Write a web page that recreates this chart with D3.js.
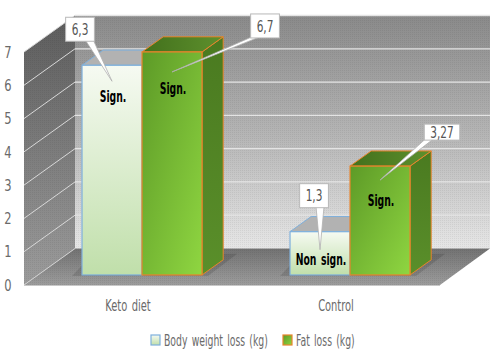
<!DOCTYPE html>
<html><head><meta charset="utf-8">
<script src="https://cdn.jsdelivr.net/npm/d3@7"></script>
<style>
html,body{margin:0;padding:0;background:#fff;}
svg{display:block;}
text{font-family:"DejaVu Sans",sans-serif;}
</style></head>
<body>
<svg id="chart" width="490" height="356"></svg>
<script>
// ---- data ----
const categories = ["Keto diet", "Control"];
const seriesNames = ["Body weight loss (kg)", "Fat loss (kg)"];
const bodyWeightLoss = [6.3, 1.3];
const fatLoss = [6.7, 3.27];
const bodyLabels = ["6,3", "1,3"];
const fatLabels = ["6,7", "3,27"];
const bodySignif = ["Sign.", "Non sign."];
const fatSignif = ["Sign.", "Sign."];
const yTicks = [0, 1, 2, 3, 4, 5, 6, 7];

// ---- layout ----
const svg = d3.select("#chart");
const FX0 = 24, FX1 = 440;           // front floor edge
const DX = 51, DY = -36.5;           // full depth vector
const T0 = 0.275, T1 = 0.69;         // bar front/back depth fractions
const BAR_W = 60;

const y = d3.scaleLinear().domain([0, 7]).range([285, 52]);
const x = d3.scaleBand().domain(categories).range([FX0, FX1]);
const xs = d3.scaleBand().domain(seriesNames).range([-BAR_W, BAR_W]);

const P = (px, py, t) => [px + DX * t, py + DY * t];
const poly = pts => pts.map(p => p.join(",")).join(" ");

// condensed text helper
function ctext(parent, tx, ty, str, opts) {
  const o = Object.assign({size: 14, fill: "#666", anchor: "middle", weight: "normal", dy: "0", sx: 0.7, ws: 0}, opts || {});
  const t = parent.append("text")
    .attr("transform", `translate(${tx},${ty}) scale(${o.sx},1)`)
    .attr("text-anchor", o.anchor).attr("dy", o.dy).attr("word-spacing", o.ws)
    .attr("font-size", o.size).attr("font-weight", o.weight).attr("fill", o.fill).text(str);
  t.sx = o.sx;
  return t;
}

const defs = svg.append("defs");
function lin(id, x1, y1, x2, y2, stops) {
  const g = defs.append("linearGradient").attr("id", id)
    .attr("x1", x1).attr("y1", y1).attr("x2", x2).attr("y2", y2);
  stops.forEach(s => g.append("stop").attr("offset", s[0]).attr("stop-color", s[1]));
}
lin("gBack", 0, 0, 0, 1, [[0, "#8a8a8a"], [0.5, "#b4b4b4"], [1, "#e6e6e6"]]);
lin("gLeft", 0, 0, 0, 1, [[0, "#5c5c5c"], [1, "#9c9c9c"]]);
lin("gFloor", 0, 0, 0, 1, [[0, "#727272"], [1, "#9c9c9c"]]);
lin("gBody", 0, 0, 0, 1, [[0, "#f6faf2"], [1, "#c0dfaa"]]);
lin("gFat", 0, 0, 1, 1, [[0, "#5d9a27"], [1, "#8fd641"]]);
lin("gFatSide", 0, 0, 0, 1, [[0, "#4a7a20"], [1, "#5a8f2a"]]);
lin("gFatTop", 0, 0, 1, 0, [[0, "#42701c"], [1, "#5e902d"]]);

const pat = defs.append("pattern").attr("id", "dots").attr("width", 2).attr("height", 2)
  .attr("patternUnits", "userSpaceOnUse");
pat.append("rect").attr("width", 1).attr("height", 1).attr("fill", "#000").attr("opacity", 0.06);

// back wall
const yTop = y(7), yBot = y(0);
const backPts = [P(FX0, yTop, 1), [490, yTop + DY], [490, yBot + DY], P(FX0, yBot, 1)];
svg.append("polygon").attr("points", poly(backPts)).attr("fill", "url(#gBack)");
svg.append("polygon").attr("points", poly(backPts)).attr("fill", "url(#dots)");
// left wall
const leftPts = [[FX0, yTop], P(FX0, yTop, 1), P(FX0, yBot, 1), [FX0, yBot]];
svg.append("polygon").attr("points", poly(leftPts)).attr("fill", "url(#gLeft)");
svg.append("polygon").attr("points", poly(leftPts)).attr("fill", "url(#dots)");
// floor
const floorPts = [[FX0, yBot], P(FX0, yBot, 1), [490, yBot + DY], [FX1, yBot]];
svg.append("polygon").attr("points", poly(floorPts)).attr("fill", "url(#gFloor)");
svg.append("polygon").attr("points", poly(floorPts)).attr("fill", "url(#dots)");
svg.append("line").attr("x1", FX0).attr("x2", FX1).attr("y1", yBot + 0.5).attr("y2", yBot + 0.5)
  .attr("stroke", "#c8c8c8").attr("stroke-width", 1.2);

// gridlines
yTicks.filter(v => v > 0).forEach(v => {
  const a = [FX0, y(v)], b = P(FX0, y(v), 1);
  svg.append("line").attr("x1", a[0]).attr("y1", a[1]).attr("x2", b[0]).attr("y2", b[1])
    .attr("stroke", "#d8d8d8").attr("stroke-width", 1);
  svg.append("line").attr("x1", b[0]).attr("y1", b[1]).attr("x2", 490).attr("y2", b[1])
    .attr("stroke", "#e4e4e4").attr("stroke-width", v === 7 ? 1.5 : 1.2);
});
{
  const a = [FX0, yBot], b = P(FX0, yBot, 1);
  svg.append("line").attr("x1", a[0]).attr("y1", a[1]).attr("x2", b[0]).attr("y2", b[1])
    .attr("stroke", "#d0d0d0").attr("stroke-width", 1);
}

// y tick labels
yTicks.forEach(v => ctext(svg, 8, y(v), v, {size: 16, dy: "0.36em", fill: "#6a6a6a", sx: 0.72}));

// category labels
categories.forEach(c => ctext(svg, x(c) + x.bandwidth() / 2, 311, c, {size: 15, fill: "#6a6a6a", sx: 0.66, ws: 2}));

// bars
const bars = [];
categories.forEach((c, i) => {
  bars.push({cat: c, s: seriesNames[0], v: bodyWeightLoss[i], lab: bodyLabels[i], sig: bodySignif[i], kind: "body"});
  bars.push({cat: c, s: seriesNames[1], v: fatLoss[i], lab: fatLabels[i], sig: fatSignif[i], kind: "fat"});
});
bars.forEach(b => {
  const cx = x(b.cat) + x.bandwidth() / 2;
  b.fx0 = cx + xs(b.s) + DX * T0;
  b.fx1 = b.fx0 + xs.bandwidth();
  b.top = y(b.v) + DY * T0;
  b.bot = y(0) + DY * T0;
});
const dT = T1 - T0;
const g = svg.append("g");
bars.filter(b => b.kind === "fat").forEach(b => {
  const x0 = b.fx0 - xs.bandwidth() - 10, x1 = b.fx1 + 6;
  g.append("polygon").attr("points", poly([[x0, b.bot + 1], [x1, b.bot + 1], [x1 + DX * dT + 8, b.bot + DY * dT - 6], [x0 + DX * dT, b.bot + DY * dT - 6]]))
    .attr("fill", "#000").attr("opacity", 0.12);
});
bars.forEach(b => {
  const w = b.fx1 - b.fx0;
  const isFat = b.kind === "fat";
  const stroke = isFat ? "#e8842c" : "#7eb0dc";
  const ox = DX * dT, oy = DY * dT;
  g.append("polygon").attr("points", poly([[b.fx1, b.top], [b.fx1 + ox, b.top + oy], [b.fx1 + ox, b.bot + oy], [b.fx1, b.bot]]))
    .attr("fill", isFat ? "url(#gFatSide)" : "#b8d8a4").attr("stroke", stroke).attr("stroke-width", 1);
  g.append("polygon").attr("points", poly([[b.fx0, b.top], [b.fx0 + ox, b.top + oy], [b.fx1 + ox, b.top + oy], [b.fx1, b.top]]))
    .attr("fill", isFat ? "url(#gFatTop)" : "#b2b2b2").attr("stroke", stroke).attr("stroke-width", 1);
  g.append("rect").attr("x", b.fx0).attr("y", b.top).attr("width", w).attr("height", b.bot - b.top)
    .attr("fill", isFat ? "url(#gFat)" : "url(#gBody)").attr("stroke", stroke).attr("stroke-width", 1.2);
});

// significance labels
const sigOffset = {"Keto diet|body": 37, "Keto diet|fat": 42, "Control|body": 33, "Control|fat": 40};
bars.forEach(b => {
  ctext(g, (b.fx0 + b.fx1) / 2 + 1, b.top + sigOffset[b.cat + "|" + b.kind], b.sig,
    {size: 15, fill: "#000", weight: 600, sx: 0.62, ws: 2});
});

// callouts
const callout = {
  "Keto diet|body": {dx: -32, dy: -52, h: 24, tip: 16},
  "Keto diet|fat": {dx: 93, dy: -46, h: 24, tip: 20},
  "Control|body": {dx: -6, dy: -54, h: 24, tip: 18},
  "Control|fat": {dx: 62, dy: -48, h: 16, tip: 14}
};
const cg = svg.append("g");
bars.forEach(b => {
  const c = callout[b.cat + "|" + b.kind];
  const tx = (b.fx0 + b.fx1) / 2, ty = b.top + c.tip;
  const bcx = tx + c.dx, bcy = ty + c.dy;
  const pg = cg.append("g");
  const t = ctext(pg, bcx, bcy, b.lab, {size: 16, fill: "#555", dy: "0.36em", sx: 0.66});
  const tw = t.node().getComputedTextLength() * t.sx;
  const bw = Math.max(20, tw + 12);
  const bx = bcx - bw / 2, by = bcy - c.h / 2;
  let baseX = Math.max(bx + 1, Math.min(bx + bw - 9, tx - 4));
  const ptr = [[baseX, by + c.h - 1], [baseX + 8, by + c.h - 1], [tx, ty]];
  pg.insert("polygon", "text").attr("points", poly(ptr)).attr("fill", "#fff").attr("stroke", "#b0b0b0").attr("stroke-width", 0.8);
  pg.insert("rect", "text").attr("x", bx).attr("y", by).attr("width", bw).attr("height", c.h)
    .attr("fill", "#fff").attr("stroke", "#b8b8b8").attr("stroke-width", 1);
});

// legend
const legX = [151, 283];
const legColors = [{fill: "url(#gBody)", stroke: "#7eb0dc"}, {fill: "url(#gFat)", stroke: "#e8842c"}];
const lg = svg.append("g");
seriesNames.forEach((s, i) => {
  lg.append("rect").attr("x", legX[i]).attr("y", 335).attr("width", 9).attr("height", 10)
    .attr("fill", legColors[i].fill).attr("stroke", legColors[i].stroke).attr("stroke-width", 1.2);
  ctext(lg, legX[i] + 13, 346, s, {size: 15, fill: "#6a6a6a", anchor: "start", sx: 0.62, ws: 2});
});
</script>
</body></html>
